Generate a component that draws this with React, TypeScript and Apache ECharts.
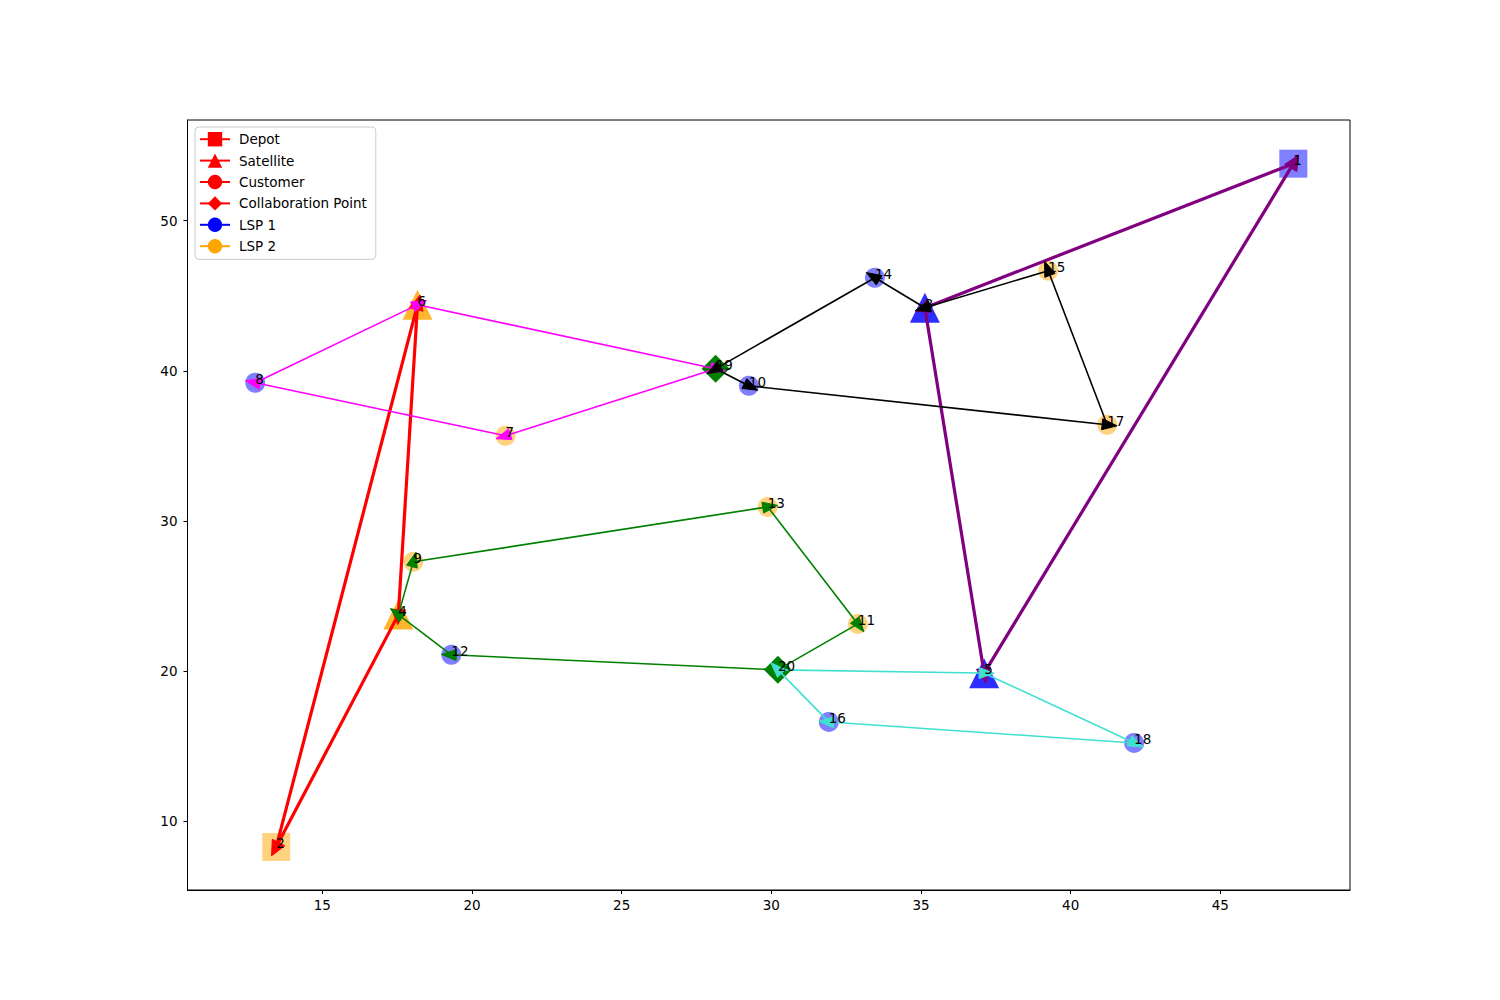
import React, { useEffect, useRef } from 'react';
import * as echarts from 'echarts';

// ---- data ----
const nodeIds = [1, 2, 3, 4, 5, 6, 7, 8, 9, 10, 11, 12, 13, 14, 15, 16, 17, 18, 19, 20];
const nodeX = [47.44, 13.46, 35.13, 17.54, 37.11, 18.18, 21.12, 12.76, 18.04, 29.25, 32.89, 19.31, 29.88, 33.46, 39.25, 31.92, 41.22, 42.12, 28.14, 30.22];
const nodeY = [53.8, 8.27, 44.2, 23.75, 19.85, 44.4, 35.67, 39.2, 27.27, 39.0, 23.13, 21.07, 30.93, 46.2, 46.67, 16.6, 36.4, 15.2, 40.13, 20.07];
const nodeType = ['depot', 'depot', 'satellite', 'satellite', 'satellite', 'satellite', 'customer', 'customer', 'customer', 'customer', 'customer', 'customer', 'customer', 'customer', 'customer', 'customer', 'customer', 'customer', 'collab', 'collab'];
const nodeLsp = [1, 2, 1, 2, 1, 2, 2, 1, 2, 1, 2, 1, 2, 1, 2, 1, 2, 1, 0, 0];

const routeRed = [2, 6, 4, 2];
const routePurple = [1, 3, 5, 1];
const routeMagenta = [6, 19, 7, 8, 6];
const routeBlack = [3, 14, 19, 10, 17, 15, 3];
const routeGreen = [4, 9, 13, 11, 20, 12, 4];
const routeTurquoise = [5, 18, 16, 20, 5];

const xTicks = [15, 20, 25, 30, 35, 40, 45];
const yTicks = [10, 20, 30, 40, 50];
const legendNames = ['Depot', 'Satellite', 'Customer', 'Collaboration Point', 'LSP 1', 'LSP 2'];
const legendSymbols = ['rect', 'triangle', 'circle', 'diamond', 'circle', 'circle'];
const legendColors = ['#FF0000', '#FF0000', '#FF0000', '#FF0000', '#0000FF', '#FFA500'];

// ---- styles ----
const FONT = '"DejaVu Sans", sans-serif';
const symbolOf: Record<string, string> = { depot: 'rect', satellite: 'triangle', customer: 'circle', collab: 'diamond' };
const sizeOf: Record<string, number> = { depot: 28, satellite: 30, customer: 20, collab: 28 };
const opacityOf: Record<string, number> = { depot: 0.5, satellite: 0.82, customer: 0.5, collab: 1 };
const lspColor = (l: number) => (l === 1 ? '#0000FF' : l === 2 ? '#FFA500' : '#008000');

function arrowSeries(route: number[], color: string, width: number, headLen: number, headHalf: number) {
  const data: number[][] = [];
  for (let i = 0; i < route.length - 1; i++) {
    const a = route[i] - 1;
    const b = route[i + 1] - 1;
    data.push([nodeX[a], nodeY[a], nodeX[b], nodeY[b]]);
  }
  const over = 10;
  return {
    type: 'custom',
    coordinateSystem: 'cartesian2d',
    z: 3,
    clip: false,
    silent: true,
    data,
    encode: { x: [0, 2], y: [1, 3] },
    renderItem: (_p: any, api: any) => {
      const p1 = api.coord([api.value(0), api.value(1)]);
      const p2 = api.coord([api.value(2), api.value(3)]);
      const dx = p2[0] - p1[0];
      const dy = p2[1] - p1[1];
      const L = Math.hypot(dx, dy) || 1;
      const ux = dx / L;
      const uy = dy / L;
      const nx = -uy;
      const ny = ux;
      const tip = [p2[0] + ux * over, p2[1] + uy * over];
      const base = [tip[0] - ux * headLen, tip[1] - uy * headLen];
      return {
        type: 'group',
        children: [
          {
            type: 'line',
            shape: { x1: p1[0], y1: p1[1], x2: base[0], y2: base[1] },
            style: { stroke: color, lineWidth: width },
          },
          {
            type: 'polygon',
            shape: {
              points: [
                tip,
                [base[0] + nx * headHalf, base[1] + ny * headHalf],
                [base[0] - nx * headHalf, base[1] - ny * headHalf],
              ],
            },
            style: { fill: color, stroke: color, lineWidth: 1 },
          },
        ],
      };
    },
  };
}

export default function App() {
  const ref = useRef<HTMLDivElement>(null);
  useEffect(() => {
    if (!ref.current) return;
    const chart = echarts.init(ref.current, undefined, { renderer: 'svg' });

    const nodeData = nodeIds.map((id, i) => ({
      value: [nodeX[i], nodeY[i], id],
      symbol: symbolOf[nodeType[i]],
      symbolSize: sizeOf[nodeType[i]],
      itemStyle: { color: lspColor(nodeLsp[i]), opacity: opacityOf[nodeType[i]] },
    }));

    const legendSeries = legendNames.map((n, i) => ({
      name: n,
      type: 'line',
      data: [],
      symbol: legendSymbols[i],
      symbolSize: 14,
      itemStyle: { color: legendColors[i] },
      lineStyle: { color: legendColors[i], width: 2 },
    }));

    chart.setOption({
      animation: false,
      backgroundColor: '#ffffff',
      grid: {
        left: 187.5,
        top: 120,
        width: 1162.5,
        height: 770,
        show: true,
        borderColor: '#000',
        borderWidth: 1,
        backgroundColor: 'transparent',
        containLabel: false,
      },
      xAxis: {
        type: 'value',
        min: 10.496,
        max: 49.333,
        splitLine: { show: false },
        axisLine: { show: true, onZero: false, lineStyle: { color: '#000', width: 1 } },
        axisTick: { show: true, length: 4, customValues: xTicks, lineStyle: { color: '#000' } },
        axisLabel: { customValues: xTicks, color: '#000', fontSize: 13.5, fontFamily: FONT, margin: 8 },
      },
      yAxis: {
        type: 'value',
        min: 5.4,
        max: 56.71,
        splitLine: { show: false },
        axisLine: { show: true, onZero: false, lineStyle: { color: '#000', width: 1 } },
        axisTick: { show: true, length: 4, customValues: yTicks, lineStyle: { color: '#000' } },
        axisLabel: { customValues: yTicks, color: '#000', fontSize: 13.5, fontFamily: FONT, margin: 10 },
      },
      legend: {
        data: legendNames,
        orient: 'vertical',
        left: 195,
        top: 127,
        padding: [5, 9, 6, 4],
        itemWidth: 30,
        itemHeight: 18,
        itemGap: 7,
        backgroundColor: '#ffffff',
        borderColor: '#cccccc',
        borderWidth: 1,
        borderRadius: 4,
        textStyle: { color: '#000', fontSize: 13.5, fontFamily: FONT, padding: [0, 0, 0, 4] },
        selectedMode: false,
      },
      series: [
        ...legendSeries,
        {
          type: 'scatter',
          z: 2,
          silent: true,
          data: nodeData,
        },
        arrowSeries(routeRed, '#FF0000', 3.2, 15, 7),
        arrowSeries(routePurple, '#800080', 3.2, 15, 7),
        arrowSeries(routeMagenta, '#FF00FF', 1.6, 15, 5.5),
        arrowSeries(routeBlack, '#000000', 1.6, 15, 5.5),
        arrowSeries(routeGreen, '#008000', 1.6, 15, 5.5),
        arrowSeries(routeTurquoise, '#40E0D0', 1.6, 15, 5.5),
        {
          type: 'custom',
          coordinateSystem: 'cartesian2d',
          z: 5,
          clip: false,
          silent: true,
          data: nodeIds.map((id, i) => [nodeX[i], nodeY[i], id]),
          encode: { x: 0, y: 1 },
          renderItem: (_p: any, api: any) => {
            const p = api.coord([api.value(0), api.value(1)]);
            return {
              type: 'text',
              x: p[0],
              y: p[1] + 3,
              style: {
                text: String(api.value(2)),
                fill: '#000',
                font: `13.5px ${FONT}`,
                align: 'left',
                verticalAlign: 'bottom',
              },
            };
          },
        },
      ],
    });
    return () => chart.dispose();
  }, []);
  return <div ref={ref} style={{ position: 'fixed', left: 0, top: 0, width: 1500, height: 1000 }} />;
}
